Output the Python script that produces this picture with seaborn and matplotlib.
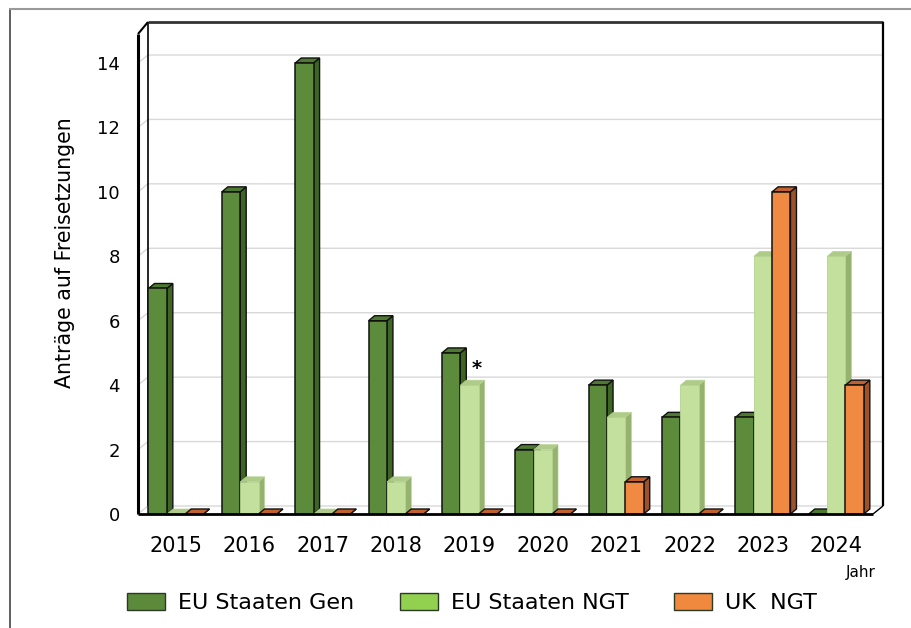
import numpy as np
import pandas as pd
import matplotlib
matplotlib.use("Agg")
import matplotlib.pyplot as plt
from matplotlib.patches import Polygon, Patch
from matplotlib.lines import Line2D
import seaborn as sns

# --- data -----------------------------------------------------------------
years = ["2015", "2016", "2017", "2018", "2019", "2020", "2021", "2022", "2023", "2024"]
eu_gen = [7, 10, 14, 6, 5, 2, 4, 3, 3, 0]
eu_ngt = [0, 1, 0, 1, 4, 2, 3, 4, 8, 8]
uk_ngt = [0, 0, 0, 0, 0, 0, 1, 0, 10, 4]
series = ["EU Staaten Gen", "EU Staaten NGT", "UK  NGT"]
y_ticks = [0, 2, 4, 6, 8, 10, 12, 14]

# colours: front face, top face, side face, edge, legend swatch
front = ["#5C8C3B", "#C3E19D", "#F08A42"]
top = ["#4E7A30", "#AECB8A", "#C1622E"]
side = ["#3D6524", "#95B36F", "#9E5229"]
edges = ["#111111", "#B4D28E", "#111111"]
swatch = ["#5B8B3A", "#92D050", "#F0883E"]

df = pd.DataFrame({
    "Jahr": years * 3,
    "Anzahl": eu_gen + eu_ngt + uk_ngt,
    "Serie": [s for s in series for _ in years],
})

sns.set_style("white")
plt.rcParams["font.family"] = ["DejaVu Sans"]
plt.rcParams["text.color"] = "black"
plt.rcParams["xtick.color"] = "black"
plt.rcParams["ytick.color"] = "black"

W, H = 912, 628
fig = plt.figure(figsize=(W / 100, H / 100), dpi=100)
fig.patch.set_facecolor("white")

# axes placed so that the front plane of the box spans the plot area
left_px, right_px, bottom_px, top_px = 138, 873, 514, 34
ax = fig.add_axes([left_px / W, 1 - bottom_px / H,
                   (right_px - left_px) / W, (bottom_px - top_px) / H])

sns.barplot(data=df, x="Jahr", y="Anzahl", hue="Serie", order=years,
            hue_order=series, palette=front, width=0.75, saturation=1,
            legend=False, ax=ax)

X0, X1 = -0.518, 9.5
Y1 = 14.9
ax.set_xlim(X0, X1)
ax.set_ylim(0, Y1)
for sp in ax.spines.values():
    sp.set_visible(False)
ax.set_facecolor("none")
ax.set_xlabel("")
ax.set_ylabel("")
ax.set_yticks(y_ticks)
ax.set_yticklabels([str(t) for t in y_ticks], fontsize=13)
ax.tick_params(axis="y", length=0, pad=13, labelcolor="black")
ax.tick_params(axis="x", length=0, pad=16, labelsize=15, labelcolor="black")

# pixel -> data conversions for the depth effect
ppx = (right_px - left_px) / (X1 - X0)
ppy = (bottom_px - top_px) / Y1
wdx, wdy = 10 / ppx, 8 / ppy      # wall depth
bdx, bdy = 6 / ppx, 5 / ppy       # bar depth

# back wall gridlines with their short side-wall segments
for t in y_ticks:
    ax.plot([X0, X0 + wdx, X1 + wdx], [t, t + wdy, t + wdy],
            color="#D9D9D9", lw=1, zorder=0.5, clip_on=False)

# box outline
kw = dict(clip_on=False, solid_capstyle="butt")
ax.plot([X0, X0], [0, Y1], color="black", lw=2.2, zorder=6, **kw)
ax.plot([X0 + wdx, X0 + wdx], [wdy, Y1 + wdy * 1.5], color="black", lw=1.2, zorder=0.6, **kw)
ax.plot([X0, X0 + wdx], [Y1, Y1 + wdy * 1.5], color="black", lw=1.5, zorder=6, **kw)
ax.plot([X0 + wdx, X1 + wdx], [Y1 + wdy * 1.5, Y1 + wdy * 1.5], color="#333333", lw=2, zorder=0.6, **kw)
ax.plot([X1 + wdx, X1 + wdx], [wdy, Y1 + wdy * 1.5], color="black", lw=1.6, zorder=0.6, **kw)
ax.plot([X0, X1], [0, 0], color="black", lw=2, zorder=6, **kw)
ax.plot([X1, X1 + wdx], [0, wdy], color="black", lw=1, zorder=6, **kw)

# bars with top and side faces
for k, cont in enumerate(ax.containers):
    z = 2 + k
    for rect in cont:
        x0, w, h = rect.get_x(), rect.get_width(), rect.get_height()
        rect.set_edgecolor(edges[k])
        rect.set_linewidth(1.1 if k != 1 else 0.6)
        rect.set_zorder(z + 0.2)
        top_face = Polygon([(x0, h), (x0 + w, h), (x0 + w + bdx, h + bdy), (x0 + bdx, h + bdy)],
                           closed=True, facecolor=top[k], edgecolor=edges[k],
                           lw=1.0 if k != 1 else 0.4, zorder=z + 0.1, clip_on=False)
        side_face = Polygon([(x0 + w, 0), (x0 + w + bdx, bdy), (x0 + w + bdx, h + bdy), (x0 + w, h)],
                            closed=True, facecolor=side[k], edgecolor=edges[k],
                            lw=1.0 if k != 1 else 0.4, zorder=z + 0.1, clip_on=False)
        ax.add_patch(side_face)
        ax.add_patch(top_face)

# footnote marker on the 2019 NGT bar
r = ax.containers[1][years.index("2019")]
ax.annotate("*", xy=(r.get_x() + r.get_width(), r.get_height()),
            xytext=(-2, 17), textcoords="offset pixels", ha="center", va="center",
            fontsize=14, fontweight="bold", color="black", zorder=10)

# axis titles
fig.text(65 / W, 1 - 253 / H, "Anträge auf Freisetzungen", rotation=90,
         ha="center", va="center", fontsize=14.8)
fig.text(876 / W, 1 - 573 / H, "Jahr", ha="right", va="center", fontsize=11)

# legend
handles = [Patch(facecolor=c, edgecolor="#2B3A24", lw=1) for c in swatch]
fig.legend(handles, series, loc="center", bbox_to_anchor=(472 / W, 1 - 603 / H),
           ncol=3, frameon=False, fontsize=16, handlelength=1.71, handleheight=0.85,
           handletextpad=0.59, columnspacing=2.05)

# frame lines along the top and left edge
fig.add_artist(Line2D([10 / W, 10 / W], [0, 1 - 9 / H], color="#444444", lw=1.2))
fig.add_artist(Line2D([10 / W, 1], [1 - 9 / H, 1 - 9 / H], color="#999999", lw=1.5))

fig.savefig("out.png", dpi=100, facecolor="white")
